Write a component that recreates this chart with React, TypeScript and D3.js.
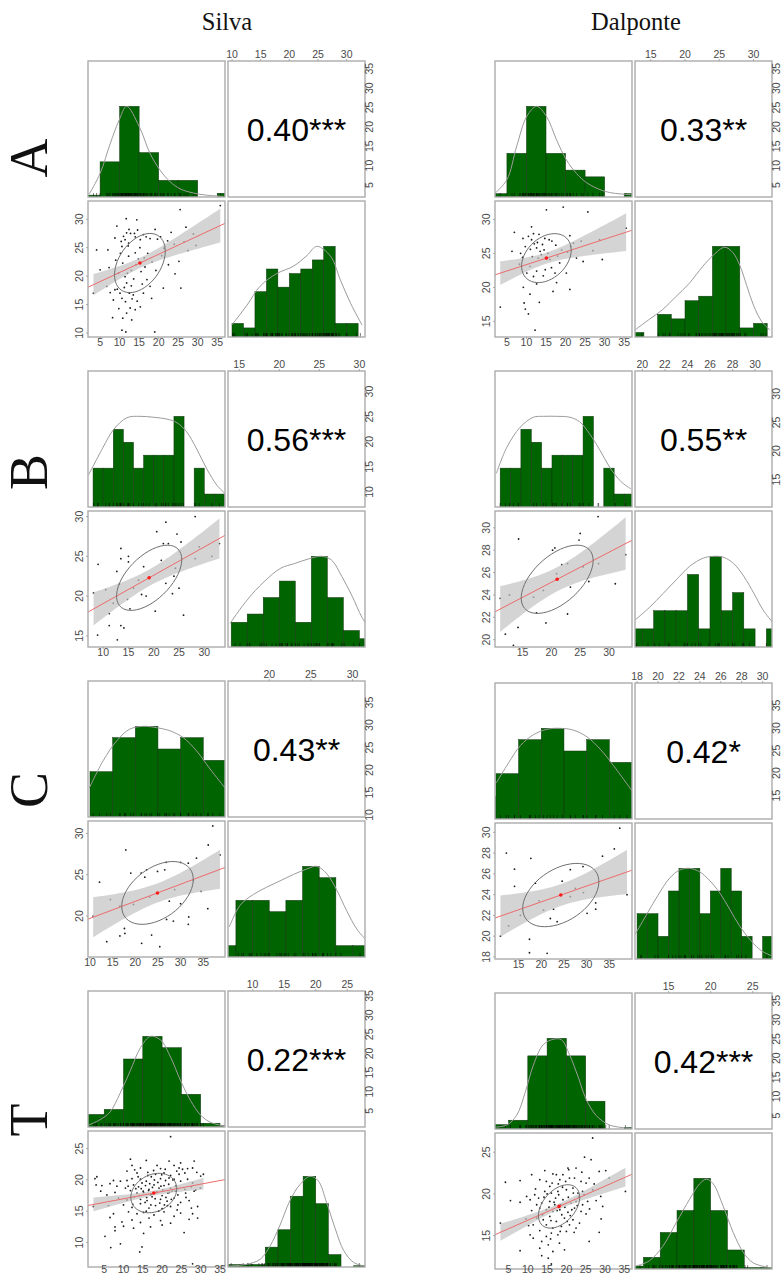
import React, { useEffect, useRef } from "react";
import * as d3 from "d3";

type P2 = [number, number];

const W = 781;
const H = 1274;

const COLUMN_TITLES = ["Silva", "Dalponte"];
const ROW_LABELS = ["A", "B", "C", "T"];

// ---------------- Silva A ----------------
const SA_range1: P2 = [1.9, 37.0];
const SA_range2: P2 = [9.3, 33.2];
const SA_ticks1 = [5, 10, 15, 20, 25, 30, 35];
const SA_ticks2 = [10, 15, 20, 25, 30];
const SA_bins1 = [0, 5];
const SA_counts1 = [1, 19, 49, 24, 9, 9, 0, 2];
const SA_bins2 = [10, 2];
const SA_counts2 = [3, 2, 10, 15, 11, 14, 15, 17, 20, 3, 3];
const SA_dens1: P2[] = [[2.2,0.03],[5.0,0.26],[7.6,0.59],[9.9,0.85],[11.8,1.0],[15.0,0.78],[17.8,0.48],[20.3,0.30],[22.9,0.17],[25.5,0.09],[28.9,0.044],[32.3,0.02],[36.5,0.007]];
const SA_dens2: P2[] = [[9.95,0.13],[12.6,0.35],[14.9,0.56],[17.8,0.70],[20.7,0.78],[23.1,0.90],[24.8,1.0],[27.2,0.89],[28.9,0.63],[30.7,0.37],[32.7,0.13]];
const SA_stats = [15.2, 22.3, 6.5, 5.2, 0.40, 113];
const SA_label = "0.40***";
const SA_points: P2[] = [[3.3,17.0],[4.1,24.6],[5.0,21.1],[6.7,18.2],[7.0,24.6],[7.6,17.1],[8.2,12.7],[8.4,15.8],[8.8,26.7],[8.8,17.6],[9.3,28.8],[9.4,17.7],[9.7,20.5],[10.1,17.0],[10.4,26.1],[10.6,25.2],[10.6,16.1],[10.6,10.5],[10.8,22.3],[10.8,12.6],[11.0,27.0],[11.4,26.4],[11.4,19.9],[11.5,15.5],[11.6,10.2],[11.7,30.1],[11.8,27.6],[11.8,18.8],[11.8,13.5],[12.3,25.8],[12.3,23.5],[12.4,28.2],[12.5,17.0],[12.7,14.4],[12.8,27.5],[13.0,21.0],[13.1,12.3],[13.2,16.0],[13.5,16.7],[13.6,19.5],[14.0,26.9],[14.0,24.1],[14.0,14.1],[14.2,22.0],[14.4,29.9],[14.6,28.1],[14.5,15.6],[15.3,26.4],[15.3,14.6],[15.2,25.0],[15.5,20.8],[16.1,27.3],[16.1,17.0],[16.3,23.2],[16.8,26.9],[17.0,19.4],[17.2,24.0],[17.8,26.6],[17.8,18.2],[18.3,22.5],[19.1,28.2],[19.0,10.2],[19.3,21.0],[19.7,26.5],[20.5,26.9],[20.8,23.6],[21.2,17.9],[21.4,24.9],[22.5,22.0],[23.2,27.7],[24.0,25.6],[25.2,22.6],[25.5,31.7],[25.7,17.9],[26.5,26.0],[27.5,24.5],[28.9,27.4],[29.6,25.4],[35.8,32.4],[7.3,21.5],[9.0,22.8],[12.0,20.5],[13.0,18.3],[15.8,18.6],[10.2,24.0],[14.8,23.0],[16.5,21.6],[12.2,25.3],[11.2,18.0],[9.8,14.3],[18.2,16.1],[22.3,26.2],[27.0,28.6],[24.2,20.4],[13.8,27.5]];

// ---------------- Dalponte A ----------------
const DA_range1: P2 = [1.95, 37.0];
const DA_range2: P2 = [12.7, 32.7];
const DA_ticks1 = [5, 10, 15, 20, 25, 30, 35];
const DA_ticks2 = [15, 20, 25, 30];
const DA_bins1 = [0, 5];
const DA_counts1 = [1, 13, 27, 13, 8, 6, 0, 1];
const DA_bins2 = [12, 2];
const DA_counts2 = [1, 0, 5, 4, 8, 9, 20, 20, 2, 3];
const DA_dens1: P2[] = [[2.0,0.044],[5.0,0.19],[7.5,0.56],[10.1,0.89],[12.6,1.0],[15.1,0.89],[17.7,0.63],[20.2,0.41],[22.8,0.26],[25.3,0.16],[27.8,0.10],[31.2,0.05],[36.7,0.026]];
const DA_dens2: P2[] = [[12.7,0.077],[14.7,0.19],[16.7,0.30],[18.6,0.44],[20.6,0.59],[22.6,0.78],[24.1,0.90],[25.8,0.99],[27.0,0.93],[28.0,0.79],[29.0,0.57],[30.0,0.35],[31.2,0.17],[32.4,0.077]];
const DA_stats = [15.1, 24.3, 6.35, 3.6, 0.33, 70];
const DA_label = "0.33**";
const DA_points: P2[] = [[3.3,17.1],[6.3,25.3],[6.9,28.1],[9.1,27.2],[9.7,26.0],[11.3,28.9],[11.8,27.9],[11.3,27.0],[12.6,25.8],[14.1,26.3],[14.7,27.2],[15.1,31.4],[19.4,31.8],[25.7,31.1],[21.1,27.6],[21.3,26.0],[9.2,20.0],[10.9,19.0],[9.7,16.8],[9.4,17.7],[10.5,16.1],[13.3,17.8],[12.2,13.7],[16.0,24.1],[16.4,22.9],[17.3,22.1],[14.3,21.7],[12.6,22.4],[10.1,22.1],[10.9,23.1],[11.8,21.6],[13.5,25.3],[18.5,23.6],[20.2,22.1],[21.1,19.7],[22.8,24.3],[29.4,24.1],[28.7,27.0],[35.5,28.7],[17.7,20.7],[16.8,19.4],[12.6,20.5],[8.5,25.0],[13.0,24.3],[15.5,25.0],[19.0,25.5],[24.5,23.8],[11.5,24.5],[8.2,23.4],[14.8,22.6],[17.5,26.2],[13.8,24.8],[11.0,25.6],[12.0,26.4],[14.5,25.5],[16.5,26.8],[18.0,24.6],[20.5,25.2],[22.0,26.5],[9.0,24.4],[10.5,27.5],[13.2,27.8],[15.8,27.0],[24.0,26.8],[27.0,25.4],[12.8,26.6]];

// ---------------- Silva B ----------------
const SB_range1: P2 = [7.0, 34.1];
const SB_range2: P2 = [13.6, 30.7];
const SB_ticks1 = [10, 15, 20, 25, 30];
const SB_ticks2 = [15, 20, 25, 30];
const SB_bins1 = [8, 2];
const SB_counts1 = [3, 3, 6, 5, 3, 4, 4, 4, 7, 0, 3, 1, 1];
const SB_bins2 = [14, 2];
const SB_counts2 = [3, 4, 6, 8, 3, 11, 6, 2, 1];
const SB_dens1: P2[] = [[7.07,0.35],[10.0,0.66],[12.0,0.85],[14.7,0.985],[17.3,1.0],[19.9,0.99],[22.6,0.97],[24.6,0.93],[26.5,0.83],[28.5,0.64],[30.5,0.42],[32.5,0.24],[34.1,0.15]];
const SB_dens2: P2[] = [[13.85,0.26],[16.0,0.52],[18.1,0.72],[20.2,0.87],[21.9,0.92],[23.6,0.97],[25.3,1.0],[26.5,0.96],[27.8,0.78],[29.1,0.56],[30.3,0.33],[30.96,0.24]];
const SB_stats = [19.1, 22.3, 6.45, 4.1, 0.56, 44];
const SB_label = "0.56***";
const SB_points: P2[] = [[8.1,20.4],[9.0,24.0],[8.9,15.1],[11.2,17.8],[11.2,16.3],[10.5,20.8],[13.5,26.0],[13.5,24.7],[12.7,23.1],[12.0,19.1],[13.5,16.3],[12.8,14.5],[13.2,21.5],[15.0,25.0],[15.0,24.3],[14.8,19.6],[15.3,18.4],[14.1,16.0],[16.0,21.0],[17.6,20.2],[17.0,22.0],[18.0,23.7],[18.5,20.0],[19.1,22.3],[20.3,18.1],[20.6,28.1],[21.5,24.5],[21.9,26.6],[22.4,29.3],[22.4,21.6],[22.9,26.6],[23.7,20.3],[24.6,27.8],[25.4,26.8],[25.9,17.6],[24.3,23.5],[25.0,21.0],[24.0,22.5],[28.2,30.0],[28.2,24.7],[29.0,26.2],[31.5,25.0],[33.0,26.6]];

// ---------------- Dalponte B ----------------
const DB_range1: P2 = [10.2, 34.0];
const DB_range2: P2 = [19.35, 31.5];
const DB_ticks1 = [15, 20, 25, 30];
const DB_ticks2 = [20, 22, 24, 26, 28, 30];
const DB_bins1 = [11.1, 1.8];
const DB_counts1 = [3, 3, 6, 5, 3, 4, 4, 4, 7, 0, 3, 1, 1];
const DB_bins2 = [19, 1];
const DB_counts2 = [1, 1, 2, 2, 2, 4, 1, 5, 2, 3, 1, 0, 1];
const DB_dens1: P2[] = [[10.43,0.37],[12.27,0.66],[14.57,0.88],[16.87,0.99],[18.6,1.0],[20.9,1.0],[23.2,0.99],[24.9,0.94],[26.6,0.81],[28.4,0.63],[30.1,0.44],[32.1,0.28],[33.8,0.20]];
const DB_dens2: P2[] = [[19.38,0.30],[20.66,0.44],[21.84,0.59],[23.0,0.74],[24.2,0.89],[25.4,0.98],[26.3,1.0],[27.2,0.99],[28.1,0.92],[29.0,0.78],[29.9,0.59],[30.7,0.41],[31.5,0.28]];
const DB_stats = [21.0, 25.4, 6.25, 3.05, 0.55, 25];
const DB_label = "0.55**";
const DB_points: P2[] = [[14.3,29.0],[28.1,31.0],[25.0,29.5],[24.8,28.9],[20.2,28.0],[20.6,28.2],[21.8,26.7],[22.8,26.8],[23.3,24.7],[31.1,25.0],[32.9,27.6],[28.2,26.8],[11.1,23.7],[12.7,24.0],[17.4,22.4],[22.8,22.3],[19.05,21.5],[14.2,21.1],[12.0,20.5],[20.9,25.9],[18.6,24.4],[25.5,26.5],[16.9,23.8],[13.4,19.5],[26.5,25.2]];

// ---------------- Silva C ----------------
const SC_range1: P2 = [9.56, 39.8];
const SC_range2: P2 = [15.05, 31.5];
const SC_ticks1 = [10, 15, 20, 25, 30, 35];
const SC_ticks2 = [20, 25, 30];
const SC_bins1 = [10, 5];
const SC_counts1 = [4, 7, 8, 6, 7, 5];
const SC_bins2 = [14, 2];
const SC_counts2 = [1, 5, 5, 4, 5, 8, 7, 1, 1];
const SC_dens1: P2[] = [[9.85,0.32],[12.9,0.62],[15.9,0.84],[18.8,0.97],[21.8,1.0],[24.7,0.985],[27.7,0.95],[30.6,0.875],[33.5,0.73],[36.5,0.53],[39.8,0.32]];
const SC_dens2: P2[] = [[15.2,0.33],[16.5,0.57],[18.1,0.69],[19.7,0.77],[21.3,0.84],[22.9,0.91],[24.5,0.97],[25.7,1.0],[26.9,0.92],[28.1,0.74],[29.3,0.51],[30.5,0.31],[31.5,0.20]];
const SC_stats = [24.9, 22.8, 7.9, 3.8, 0.43, 37];
const SC_label = "0.43**";
const SC_points: P2[] = [[12.1,24.1],[17.9,28.0],[19.0,25.2],[21.3,25.2],[22.1,24.7],[22.5,25.6],[24.9,25.4],[26.5,25.6],[26.8,26.5],[30.0,26.5],[31.7,26.4],[33.5,27.0],[36.1,28.6],[37.1,30.9],[38.7,27.4],[36.0,20.9],[31.8,19.9],[31.7,19.0],[30.0,21.5],[28.4,19.4],[26.9,19.6],[17.6,18.5],[17.7,17.9],[16.6,17.6],[13.7,16.9],[21.4,16.7],[23.6,17.7],[25.4,16.3],[23.2,22.3],[28.7,23.2],[16.6,21.2],[10.7,20.0],[19.6,21.4],[32.8,24.3],[14.5,22.0],[27.5,21.8],[34.5,23.0]];

// ---------------- Dalponte C ----------------
const DC_range1: P2 = [9.8, 40.0];
const DC_range2: P2 = [17.8, 30.9];
const DC_ticks1 = [15, 20, 25, 30, 35];
const DC_ticks2 = [18, 20, 22, 24, 26, 28, 30];
const DC_bins1 = [5, 5];
const DC_counts1 = [2, 4, 7, 8, 6, 7, 5];
const DC_bins2 = [18, 1];
const DC_counts2 = [2, 2, 1, 3, 4, 4, 2, 3, 4, 3, 1, 0, 1];
const DC_dens1: P2[] = [[10.1,0.40],[12.8,0.62],[15.4,0.81],[18.3,0.93],[21.3,0.99],[24.2,1.0],[27.1,0.98],[30.1,0.905],[33.0,0.77],[35.9,0.59],[40.0,0.31]];
const DC_dens2: P2[] = [[17.8,0.27],[18.86,0.48],[19.98,0.70],[21.1,0.89],[22.05,0.98],[23.0,1.0],[24.0,0.96],[24.9,0.87],[25.9,0.73],[26.85,0.55],[27.8,0.365],[28.9,0.20],[29.9,0.09],[30.85,0.036]];
const DC_stats = [24.3, 23.96, 8.4, 3.05, 0.42, 30];
const DC_label = "0.42*";
const DC_points: P2[] = [[11.0,20.0],[12.3,28.0],[14.1,26.45],[14.1,24.8],[17.7,27.5],[18.7,25.1],[17.4,19.7],[17.4,18.4],[21.3,18.35],[22.0,21.7],[22.7,22.6],[23.5,21.4],[24.6,25.3],[26.4,26.4],[29.2,26.7],[30.1,22.2],[32.0,23.2],[32.0,22.6],[33.5,27.7],[36.1,28.4],[37.3,30.4],[38.9,24.0],[12.8,21.0],[15.4,22.0],[20.5,22.5],[26.4,23.8],[29.3,24.2],[19.5,23.4],[27.5,24.6]];

// ---------------- Silva T ----------------
const ST_range1: P2 = [0.8, 36.3];
const ST_range2: P2 = [6.1, 27.8];
const ST_ticks1 = [5, 10, 15, 20, 25, 30, 35];
const ST_ticks2 = [10, 15, 20, 25];
const ST_bins1 = [0, 5];
const ST_counts1 = [10, 14, 54, 72, 63, 26, 3, 1];
const ST_bins2 = [6, 2];
const ST_counts2 = [2, 2, 2, 16, 30, 57, 73, 51, 10, 0, 1];
const ST_dens1: P2[] = [[0.9,0.02],[3.9,0.08],[6.5,0.165],[9.1,0.37],[11.8,0.625],[14.4,0.875],[17.0,1.0],[19.6,0.96],[22.2,0.77],[24.8,0.51],[27.4,0.29],[30.0,0.13],[32.6,0.05],[36.3,0.01]];
const ST_dens2: P2[] = [[6.15,0.01],[9.06,0.03],[11.2,0.085],[12.75,0.23],[14.3,0.455],[15.9,0.73],[17.5,0.91],[19.1,1.0],[20.4,0.95],[21.7,0.715],[23.1,0.42],[24.4,0.185],[26.0,0.05],[27.8,0.01]];
const ST_stats = [17.85, 17.9, 5.95, 3.15, 0.22, 243];
const ST_label = "0.22***";
const ST_points: P2[] = [[22.2,26.9],[11.8,23.3],[15.9,23.1],[21.8,23.0],[28.3,23.0],[24.8,22.7],[12.2,22.3],[14.4,21.9],[18.7,22.3],[19.6,21.8],[23.1,22.3],[24.4,21.9],[25.3,21.7],[26.6,21.8],[27.9,21.9],[10.9,21.4],[13.5,21.1],[16.3,21.2],[18.3,20.9],[20.5,21.1],[22.2,20.7],[23.8,21.4],[25.9,21.1],[29.0,21.2],[30.0,20.6],[30.7,20.9],[2.6,20.2],[3.1,20.5],[7.4,19.9],[9.2,19.8],[10.9,19.9],[12.2,20.2],[14.4,20.1],[15.9,19.8],[17.2,20.5],[19.6,20.2],[20.9,19.9],[21.8,20.3],[23.1,20.1],[24.8,19.8],[26.6,20.1],[27.9,19.5],[2.9,19.2],[4.4,19.1],[6.5,19.4],[8.3,19.0],[10.5,18.7],[12.6,19.2],[13.9,18.9],[15.7,19.1],[16.6,18.5],[17.9,19.2],[19.2,18.7],[20.5,19.1],[22.2,18.7],[23.5,19.0],[25.9,18.5],[27.6,18.9],[28.7,18.4],[29.9,18.7],[4.1,18.2],[5.7,17.6],[7.8,18.0],[11.8,18.3],[13.5,17.9],[15.1,18.2],[17.0,17.6],[18.7,18.0],[20.0,17.5],[21.5,17.9],[22.6,18.2],[24.1,17.6],[26.1,17.9],[28.3,18.2],[8.7,17.1],[10.9,16.8],[12.8,17.3],[14.4,16.9],[16.1,16.7],[17.4,17.3],[19.6,16.9],[21.3,16.6],[23.1,17.1],[24.8,16.4],[27.0,16.7],[2.2,15.75],[6.1,15.9],[10.0,16.0],[12.2,15.6],[14.4,16.2],[16.6,15.5],[18.3,15.9],[20.0,15.4],[22.2,15.75],[24.1,16.0],[27.6,15.5],[29.2,15.75],[7.4,14.6],[11.3,14.9],[13.5,14.6],[15.2,14.8],[17.9,14.4],[20.5,14.9],[23.1,14.2],[24.8,14.7],[27.9,14.6],[6.5,14.0],[9.6,13.3],[12.2,13.6],[14.4,13.2],[16.6,13.9],[19.6,13.5],[22.2,13.1],[27.0,13.7],[29.2,13.9],[7.8,12.5],[10.0,12.6],[12.6,12.3],[17.0,12.5],[20.0,12.8],[5.2,11.0],[7.8,11.9],[15.2,11.45],[25.7,11.6],[6.7,9.2],[9.2,9.8],[14.2,8.5],[14.8,9.3],[27.9,6.6],[15.2,18.0],[16.0,17.2],[16.8,19.4],[17.5,18.8],[18.2,17.0],[18.9,19.6],[19.4,16.3],[20.2,18.4],[21.0,17.2],[21.7,19.3],[22.4,16.9],[14.8,19.5],[15.6,16.4],[17.1,16.0],[18.6,18.1],[19.9,20.8],[21.4,15.9],[22.8,20.0],[13.2,18.6],[14.1,17.5],[16.3,20.7],[17.8,21.5],[19.1,15.0],[20.8,21.7],[23.4,18.2],[12.4,16.1],[13.8,20.5],[15.9,15.0],[18.0,20.0],[20.6,16.0],[16.5,18.3],[19.7,19.0],[17.3,17.7],[21.9,18.0],[14.6,18.6],[23.9,15.2],[11.2,19.0],[12.9,21.6],[24.4,20.9],[26.2,17.2]];

// ---------------- Dalponte T ----------------
const DT_range1: P2 = [1.5, 37.0];
const DT_range2: P2 = [11.0, 27.3];
const DT_ticks1 = [5, 10, 15, 20, 25, 30, 35];
const DT_ticks2 = [15, 20, 25];
const DT_bins1 = [0, 5];
const DT_counts1 = [3, 6, 50, 62, 50, 19, 0, 1];
const DT_bins2 = [10, 2];
const DT_counts2 = [2, 8, 25, 40, 62, 40, 13, 1, 1];
const DT_dens1: P2[] = [[1.6,0.02],[4.6,0.045],[7.1,0.15],[9.3,0.40],[11.4,0.70],[14.0,0.93],[16.7,0.99],[18.7,0.985],[20.8,0.82],[23.0,0.58],[25.1,0.33],[27.7,0.15],[31.1,0.045],[36.6,0.007]];
const DT_dens2: P2[] = [[11.0,0.03],[12.7,0.09],[14.3,0.25],[15.9,0.51],[17.5,0.77],[18.7,0.94],[19.5,0.99],[20.3,0.94],[21.5,0.69],[22.7,0.40],[23.9,0.18],[25.1,0.066],[27.3,0.01]];
const DT_stats = [18.1, 18.5, 5.35, 2.6, 0.42, 192];
const DT_label = "0.42***";
const DT_points: P2[] = [[26.8,26.7],[24.7,24.4],[26.4,24.1],[20.4,23.1],[22.5,23.1],[16.5,22.4],[17.4,22.3],[19.1,22.3],[11.0,22.3],[28.5,22.7],[30.2,22.8],[31.1,21.9],[13.1,21.7],[8.0,21.6],[4.2,21.4],[14.8,21.5],[15.7,20.9],[18.3,21.7],[20.8,21.9],[22.1,21.9],[23.8,21.5],[25.1,21.3],[25.9,21.9],[9.7,19.7],[11.8,19.9],[14.4,20.3],[16.1,20.1],[17.8,20.3],[20.0,20.5],[21.7,20.7],[23.0,20.1],[24.2,20.3],[26.8,20.5],[28.9,19.7],[35.3,20.3],[8.0,19.0],[10.6,19.3],[12.3,18.7],[13.6,18.9],[15.7,19.1],[17.0,18.7],[19.1,19.3],[21.2,18.9],[22.5,19.1],[24.2,18.7],[25.5,19.1],[27.7,19.2],[29.4,18.5],[2.9,16.5],[13.1,18.3],[14.8,18.1],[16.5,17.9],[18.3,18.1],[20.4,17.8],[22.1,18.3],[23.8,17.9],[25.1,17.6],[12.3,17.1],[14.0,16.9],[15.7,17.3],[17.4,16.7],[19.5,17.1],[21.7,16.9],[23.4,16.5],[11.4,16.3],[14.8,16.3],[16.5,15.9],[18.7,16.1],[20.8,16.3],[22.5,15.9],[13.1,15.6],[16.1,15.3],[14.8,14.9],[17.8,15.1],[20.0,15.5],[28.5,15.4],[25.9,14.3],[10.6,15.1],[11.4,14.7],[8.0,13.2],[13.6,14.3],[15.3,13.9],[13.1,13.5],[16.5,13.1],[13.6,12.6],[19.5,13.3],[15.3,12.3],[16.1,11.6],[17.2,19.5],[18.0,19.9],[18.8,17.5],[19.6,18.4],[16.8,19.0],[20.5,19.6],[21.0,17.4],[15.5,18.4],[17.6,18.0],[19.0,20.8],[21.8,20.1],[16.0,16.8],[18.4,15.5],[14.2,19.6],[22.8,18.6],[20.2,16.7],[17.9,21.2],[15.0,20.0],[19.8,21.5],[23.2,19.6],[12.8,19.5],[13.8,17.5],[16.3,21.3],[18.5,18.7],[21.4,18.1],[24.6,19.9],[11.0,18.0],[22.0,15.4],[15.9,14.6],[18.2,14.1],[26.0,18.2],[27.2,21.2],[9.5,17.0],[12.0,20.6],[24.0,22.6],[20.6,22.9],[14.4,22.8],[10.2,16.2],[29.0,17.0],[5.5,19.2]];

// ---------------- assembling ----------------
const PANELS = [
  { r1: SA_range1, r2: SA_range2, t1: SA_ticks1, t2: SA_ticks2, b1: SA_bins1, c1: SA_counts1, b2: SA_bins2, c2: SA_counts2, d1: SA_dens1, d2: SA_dens2, st: SA_stats, lab: SA_label, pts: SA_points },
  { r1: DA_range1, r2: DA_range2, t1: DA_ticks1, t2: DA_ticks2, b1: DA_bins1, c1: DA_counts1, b2: DA_bins2, c2: DA_counts2, d1: DA_dens1, d2: DA_dens2, st: DA_stats, lab: DA_label, pts: DA_points },
  { r1: SB_range1, r2: SB_range2, t1: SB_ticks1, t2: SB_ticks2, b1: SB_bins1, c1: SB_counts1, b2: SB_bins2, c2: SB_counts2, d1: SB_dens1, d2: SB_dens2, st: SB_stats, lab: SB_label, pts: SB_points },
  { r1: DB_range1, r2: DB_range2, t1: DB_ticks1, t2: DB_ticks2, b1: DB_bins1, c1: DB_counts1, b2: DB_bins2, c2: DB_counts2, d1: DB_dens1, d2: DB_dens2, st: DB_stats, lab: DB_label, pts: DB_points },
  { r1: SC_range1, r2: SC_range2, t1: SC_ticks1, t2: SC_ticks2, b1: SC_bins1, c1: SC_counts1, b2: SC_bins2, c2: SC_counts2, d1: SC_dens1, d2: SC_dens2, st: SC_stats, lab: SC_label, pts: SC_points },
  { r1: DC_range1, r2: DC_range2, t1: DC_ticks1, t2: DC_ticks2, b1: DC_bins1, c1: DC_counts1, b2: DC_bins2, c2: DC_counts2, d1: DC_dens1, d2: DC_dens2, st: DC_stats, lab: DC_label, pts: DC_points },
  { r1: ST_range1, r2: ST_range2, t1: ST_ticks1, t2: ST_ticks2, b1: ST_bins1, c1: ST_counts1, b2: ST_bins2, c2: ST_counts2, d1: ST_dens1, d2: ST_dens2, st: ST_stats, lab: ST_label, pts: ST_points },
  { r1: DT_range1, r2: DT_range2, t1: DT_ticks1, t2: DT_ticks2, b1: DT_bins1, c1: DT_counts1, b2: DT_bins2, c2: DT_counts2, d1: DT_dens1, d2: DT_dens2, st: DT_stats, lab: DT_label, pts: DT_points },
];

// layout (positions only)
const CELL_W = 137;
const CELL_H = 136;
const LAYOUT = [
  { x: 88, y: 61, dx: 140, dy: 140, rOff: 8 },
  { x: 495, y: 61, dx: 140, dy: 140, rOff: 7.5 },
  { x: 88, y: 371, dx: 140, dy: 140, rOff: 8 },
  { x: 495, y: 371, dx: 140, dy: 140, rOff: 7.5 },
  { x: 88, y: 681, dx: 140, dy: 140, rOff: 8 },
  { x: 495, y: 683, dx: 140, dy: 140, rOff: 7.5 },
  { x: 88, y: 991, dx: 140, dy: 140, rOff: 8 },
  { x: 495, y: 993, dx: 140, dy: 140, rOff: 7.5 },
];
const TITLE_POS = [{ x: 227, y: 30 }, { x: 636, y: 30 }];
const ROW_LABEL_Y = [158, 472, 790, 1120];

const SANS = "'Liberation Sans', Arial, Helvetica, sans-serif";
const SERIF = "'Liberation Serif', 'Times New Roman', Times, serif";
const GREEN = "#006400";
const AXIS_TXT = "#4a4a4a";

function drawHist(g: any, xs: any, top: number, bins: number[], counts: number[], dens: P2[], rugVals: number[], dom: P2) {
  const h = CELL_H;
  const maxC = d3.max(counts) as number;
  const hy = d3.scaleLinear().domain([0, 1.5]).range([top + h, top]);
  counts.forEach((c, i) => {
    if (!c) return;
    let a = bins[0] + i * bins[1];
    let b = a + bins[1];
    a = Math.max(a, dom[0] - 1);
    b = Math.min(b, dom[1] + 1);
    if (b <= a) return;
    g.append("rect")
      .attr("x", xs(a))
      .attr("y", hy(c / maxC))
      .attr("width", xs(b) - xs(a))
      .attr("height", hy(0) - hy(c / maxC))
      .attr("fill", GREEN)
      .attr("stroke", "#123312")
      .attr("stroke-width", 0.5);
  });
  g.append("g")
    .selectAll("line")
    .data(rugVals)
    .join("line")
    .attr("x1", (d: number) => xs(d))
    .attr("x2", (d: number) => xs(d))
    .attr("y1", top + h)
    .attr("y2", top + h - 4)
    .attr("stroke", "#000")
    .attr("stroke-width", 0.5);
  const line = d3
    .line<P2>()
    .x((d) => xs(d[0]))
    .y((d) => hy(d[1]))
    .curve(d3.curveCatmullRom.alpha(0.5));
  g.append("path")
    .attr("d", line(dens))
    .attr("fill", "none")
    .attr("stroke", "#9c9c9c")
    .attr("stroke-width", 1);
}

function drawPanel(svg: any, defs: any, P: any, L: any, idx: number) {
  const w = CELL_W;
  const h = CELL_H;
  const xL = L.x;
  const xR = L.x + L.dx;
  const yT = L.y;
  const yB = L.y + L.dy;
  const xs1 = d3.scaleLinear().domain(P.r1).range([xL, xL + w]);
  const ys1 = d3.scaleLinear().domain(P.r1).range([yT + h, yT]);
  const xs2 = d3.scaleLinear().domain(P.r2).range([xR, xR + w]);
  const ys2 = d3.scaleLinear().domain(P.r2).range([yB + h, yB]);

  const mkClip = (name: string, x: number, y: number) => {
    const id = `clip${idx}${name}`;
    defs.append("clipPath").attr("id", id).append("rect").attr("x", x).attr("y", y).attr("width", w).attr("height", h);
    return `url(#${id})`;
  };

  const g = svg.append("g");

  drawHist(g.append("g").attr("clip-path", mkClip("tl", xL, yT)), xs1, yT, P.b1, P.c1, P.d1, P.pts.map((d: P2) => d[0]), P.r1);
  drawHist(g.append("g").attr("clip-path", mkClip("br", xR, yB)), xs2, yB, P.b2, P.c2, P.d2, P.pts.map((d: P2) => d[1]), P.r2);

  const sg = g.append("g").attr("clip-path", mkClip("bl", xL, yB));
  sg.append("g")
    .selectAll("circle")
    .data(P.pts)
    .join("circle")
    .attr("cx", (d: P2) => xs1(d[0]))
    .attr("cy", (d: P2) => ys2(d[1]))
    .attr("r", 0.9)
    .attr("fill", "#1a1a1a");

  const [mx, my, sx, sy, r, n] = P.st;
  const slope = (r * sy) / sx;
  const fit = (x: number) => my + slope * (x - mx);
  const s = sy * Math.sqrt(1 - r * r) * Math.sqrt((n - 1) / (n - 2));
  const tc = 1.96 + 2.4 / (n - 2);
  const ext = d3.extent(P.pts, (d: P2) => d[0]) as [number, number];
  const xsamp = d3.range(41).map((i) => ext[0] + ((ext[1] - ext[0]) * i) / 40);
  const se = (x: number) => s * Math.sqrt(1 / n + ((x - mx) * (x - mx)) / ((n - 1) * sx * sx));
  const band = d3
    .area<number>()
    .x((x) => xs1(x))
    .y0((x) => ys2(fit(x) - tc * se(x)))
    .y1((x) => ys2(fit(x) + tc * se(x)));
  sg.append("path").attr("d", band(xsamp)).attr("fill", "#c4c4c4").attr("fill-opacity", 0.72);

  sg.append("line")
    .attr("x1", xs1(P.r1[0]))
    .attr("y1", ys2(fit(P.r1[0])))
    .attr("x2", xs1(P.r1[1]))
    .attr("y2", ys2(fit(P.r1[1])))
    .attr("stroke", "#ec6b6b")
    .attr("stroke-width", 1);

  const t = (r >= 0 ? 1 : -1) / Math.SQRT2;
  const a1 = Math.sqrt(1 + r);
  const a2 = Math.sqrt(1 - r);
  const ell = d3.range(52).map((k) => {
    const an = (k * 2 * Math.PI) / 51;
    const u = Math.cos(an) * a1;
    const v = Math.sin(an) * a2;
    const ex = u * t - v * t;
    const ey = u * t + v * t;
    return [xs1(mx + ex * sx), ys2(my + ey * sy)] as P2;
  });
  sg.append("path")
    .attr("d", d3.line()(ell))
    .attr("fill", "none")
    .attr("stroke", "#707070")
    .attr("stroke-width", 1);
  sg.append("circle").attr("cx", xs1(mx)).attr("cy", ys2(my)).attr("r", 1.8).attr("fill", "#ff1a1a");

  [
    [xL, yT],
    [xR, yT],
    [xL, yB],
    [xR, yB],
  ].forEach(([x, y]) => {
    g.append("rect")
      .attr("x", x)
      .attr("y", y)
      .attr("width", w)
      .attr("height", h)
      .attr("fill", "none")
      .attr("stroke", "#acacac")
      .attr("stroke-width", 1.4);
  });

  g.append("text")
    .attr("x", xR + w / 2)
    .attr("y", yT + h / 2 + 12)
    .attr("text-anchor", "middle")
    .attr("font-family", SANS)
    .attr("font-size", 32)
    .attr("fill", "#000")
    .text(P.lab);

  const ax = g.append("g").attr("font-family", SANS).attr("font-size", 10.5).attr("fill", AXIS_TXT);
  P.t2.forEach((tv: number) => {
    const x = xs2(tv);
    ax.append("line").attr("x1", x).attr("x2", x).attr("y1", yT).attr("y2", yT - 2).attr("stroke", "#999").attr("stroke-width", 0.8);
    ax.append("text").attr("x", x).attr("y", yT - 3.5).attr("text-anchor", "middle").text(tv);
  });
  P.t1.forEach((tv: number) => {
    const y = ys1(tv);
    const x = xR + w;
    ax.append("line").attr("x1", x).attr("x2", x + 2).attr("y1", y).attr("y2", y).attr("stroke", "#999").attr("stroke-width", 0.8);
    ax.append("text")
      .attr("transform", `translate(${x + L.rOff},${y}) rotate(-90)`)
      .attr("text-anchor", "middle")
      .text(tv);
  });
  P.t2.forEach((tv: number) => {
    const y = ys2(tv);
    ax.append("line").attr("x1", xL).attr("x2", xL - 2).attr("y1", y).attr("y2", y).attr("stroke", "#999").attr("stroke-width", 0.8);
    ax.append("text")
      .attr("transform", `translate(${xL - 5.5},${y}) rotate(-90)`)
      .attr("text-anchor", "middle")
      .text(tv);
  });
  P.t1.forEach((tv: number) => {
    const x = xs1(tv);
    ax.append("line").attr("x1", x).attr("x2", x).attr("y1", yB + h).attr("y2", yB + h + 2).attr("stroke", "#999").attr("stroke-width", 0.8);
    ax.append("text").attr("x", x).attr("y", Math.min(yB + h + 8.5, H - 1)).attr("text-anchor", "middle").text(tv);
  });
}

export default function App() {
  const ref = useRef<SVGSVGElement | null>(null);
  useEffect(() => {
    if (!ref.current) return;
    const svg = d3.select(ref.current);
    svg.selectAll("*").remove();
    svg.append("rect").attr("width", W).attr("height", H).attr("fill", "#fff");
    const defs = svg.append("defs");

    COLUMN_TITLES.forEach((tt, i) => {
      svg
        .append("text")
        .attr("x", TITLE_POS[i].x)
        .attr("y", TITLE_POS[i].y)
        .attr("text-anchor", "middle")
        .attr("font-family", SERIF)
        .attr("font-size", 24.5)
        .attr("fill", "#111")
        .text(tt);
    });

    ROW_LABELS.forEach((lab, i) => {
      svg
        .append("text")
        .attr("transform", `translate(47,${ROW_LABEL_Y[i]}) rotate(-90)`)
        .attr("text-anchor", "middle")
        .attr("font-family", SERIF)
        .attr("font-size", 54)
        .attr("fill", "#111")
        .text(lab);
    });

    PANELS.forEach((P, i) => drawPanel(svg, defs, P, LAYOUT[i], i));
  }, []);

  return (
    <div style={{ position: "absolute", left: 0, top: 0 }}>
      <svg ref={ref} width={W} height={H} style={{ display: "block" }} />
    </div>
  );
}
